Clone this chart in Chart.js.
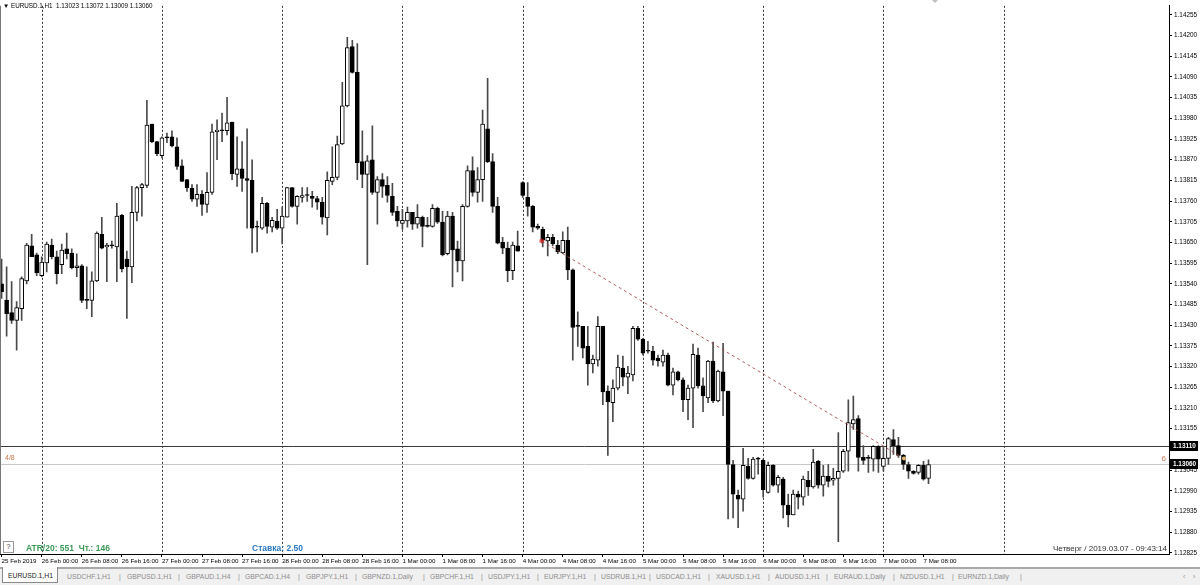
<!DOCTYPE html>
<html>
<head>
<meta charset="utf-8">
<script src="https://cdn.jsdelivr.net/npm/chart.js@4.4.1/dist/chart.umd.min.js"></script>
<style>
  html, body { margin: 0; padding: 0; background: #fff; }
  #wrap { position: relative; width: 1200px; height: 585px; overflow: hidden; font-family: "Liberation Sans", Arial, sans-serif; }
  #c { position: absolute; left: 0; top: 0; }
  .txt { position: absolute; white-space: nowrap; line-height: 1; }
  #head { left: 3px; top: 3px; font-size: 6.3px; color: #000; }
  #atr { left: 26px; top: 544px; font-size: 8.5px; font-weight: bold; color: #3b9a57; }
  #rate { left: 252px; top: 544px; font-size: 8.5px; font-weight: bold; color: #2a78c0; }
  #help { left: 3px; top: 541px; width: 9px; height: 10px; border: 1px solid #999; background: #fff; font-size: 7px; text-align: center; line-height: 10px; color: #333; }
  #clock { right: 33px; top: 545px; font-size: 8px; color: #333; }
  #tabs { position: absolute; left: 0; top: 567px; width: 1200px; height: 18px; background: #f0f0f0; border-top: 2px solid #a9a9a9; box-sizing: border-box; }
  #tabs span { position: absolute; top: 4px; font-size: 6.8px; color: #8c8c8c; white-space: nowrap; }
  #tabs .active { left: 2px; top: -2px; width: 56px; height: 16px; background: #fff; border: 1px solid #8a8a8a; border-top: none; color: #222; line-height: 17px; padding-left: 5px; box-sizing: border-box; }
</style>
</head>
<body>
<div id="wrap">
  <canvas id="c" width="1200" height="585"></canvas>
  <div class="txt" id="head">&#9660; EURUSD.1,H1&nbsp; 1.13023 1.13072 1.13009 1.13060</div>
  <div class="txt" id="help">?</div>
  <div class="txt" id="atr">ATR/20: 551&nbsp; Чт.: 146</div>
  <div class="txt" id="rate">Ставка: 2.50</div>
  <div class="txt" id="clock">Четверг / 2019.03.07 - 09:43:14</div>
  <div id="tabs"></div>
</div>
<script>
// hourly bars, 25 Feb 2019 16:00 .. 7 Mar 2019 09:00
const opens = [
  1.13540, 1.13496, 1.13464, 1.13443, 1.13474, 1.13548, 1.13641, 1.13617, 1.13562, 1.13596,
  1.13643, 1.13612, 1.13591, 1.13633, 1.13622, 1.13583, 1.13588, 1.13496, 1.13496, 1.13548,
  1.13672, 1.13638, 1.13641, 1.13638, 1.13722, 1.13606, 1.13585, 1.13730, 1.13796, 1.13802,
  1.13965, 1.13918, 1.13881, 1.13928, 1.13931, 1.13904, 1.13854, 1.13817, 1.13794, 1.13765,
  1.13778, 1.13751, 1.13783, 1.13944, 1.13947, 1.13947, 1.13970, 1.13831, 1.13846, 1.13820,
  1.13815, 1.13691, 1.13688, 1.13754, 1.13691, 1.13707, 1.13688, 1.13717, 1.13796, 1.13746,
  1.13770, 1.13775, 1.13773, 1.13767, 1.13757, 1.13715, 1.13812, 1.13823, 1.13912, 1.14013,
  1.14171, 1.14102, 1.13865, 1.13831, 1.13870, 1.13783, 1.13817, 1.13802, 1.13773, 1.13733,
  1.13701, 1.13707, 1.13730, 1.13699, 1.13717, 1.13693, 1.13693, 1.13741, 1.13704, 1.13620,
  1.13720, 1.13633, 1.13601, 1.13746, 1.13841, 1.13783, 1.13817, 1.13952, 1.13865, 1.13746,
  1.13651, 1.13635, 1.13575, 1.13641, 1.13809, 1.13770, 1.13746, 1.13693, 1.13685, 1.13654,
  1.13664, 1.13643, 1.13622, 1.13656, 1.13577, 1.13427, 1.13427, 1.13374, 1.13327, 1.13337,
  1.13427, 1.13255, 1.13224, 1.13263, 1.13316, 1.13292, 1.13298, 1.13422, 1.13393, 1.13361,
  1.13361, 1.13343, 1.13332, 1.13351, 1.13271, 1.13306, 1.13285, 1.13232, 1.13263, 1.13351,
  1.13269, 1.13237, 1.13335, 1.13229, 1.13306, 1.13255, 1.13060, 1.12978, 1.12968, 1.13055,
  1.13023, 1.13074, 1.13071, 1.12986, 1.13058, 1.13005, 1.13021, 1.12952, 1.12926, 1.12981,
  1.12973, 1.13018, 1.13000, 1.13068, 1.13005, 1.13029, 1.13018, 1.13023, 1.13042, 1.13095,
  1.13168, 1.13182, 1.13079, 1.13076, 1.13074, 1.13108, 1.13055, 1.13076, 1.13126, 1.13110,
  1.13084, 1.13060, 1.13042, 1.13039, 1.13058, 1.13023
];
const highs = [
  1.13606, 1.13585, 1.13546, 1.13493, 1.13559, 1.13648, 1.13672, 1.13622, 1.13612, 1.13651,
  1.13659, 1.13627, 1.13646, 1.13675, 1.13633, 1.13620, 1.13591, 1.13585, 1.13572, 1.13678,
  1.13717, 1.13648, 1.13654, 1.13754, 1.13725, 1.13627, 1.13799, 1.13799, 1.13807, 1.14028,
  1.13965, 1.13918, 1.13931, 1.13941, 1.13947, 1.13928, 1.13870, 1.13817, 1.13804, 1.13804,
  1.13788, 1.13836, 1.13965, 1.13976, 1.13994, 1.14036, 1.13970, 1.13931, 1.13918, 1.13952,
  1.13870, 1.13707, 1.13770, 1.13757, 1.13717, 1.13738, 1.13744, 1.13796, 1.13796, 1.13775,
  1.13796, 1.13796, 1.13786, 1.13773, 1.13770, 1.13838, 1.13904, 1.13933, 1.14076, 1.14195,
  1.14187, 1.14179, 1.13947, 1.13881, 1.13960, 1.13825, 1.13833, 1.13825, 1.13807, 1.13746,
  1.13738, 1.13744, 1.13730, 1.13751, 1.13720, 1.13717, 1.13751, 1.13744, 1.13733, 1.13733,
  1.13730, 1.13654, 1.13751, 1.13854, 1.13878, 1.13849, 1.14002, 1.14086, 1.13886, 1.13770,
  1.13664, 1.13651, 1.13651, 1.13680, 1.13812, 1.13809, 1.13749, 1.13699, 1.13691, 1.13672,
  1.13672, 1.13656, 1.13678, 1.13691, 1.13580, 1.13466, 1.13427, 1.13427, 1.13351, 1.13453,
  1.13427, 1.13269, 1.13285, 1.13351, 1.13348, 1.13321, 1.13427, 1.13427, 1.13395, 1.13387,
  1.13374, 1.13351, 1.13364, 1.13356, 1.13316, 1.13308, 1.13290, 1.13271, 1.13380, 1.13369,
  1.13290, 1.13337, 1.13385, 1.13311, 1.13382, 1.13255, 1.13071, 1.12992, 1.13103, 1.13076,
  1.13079, 1.13079, 1.13074, 1.13066, 1.13060, 1.13031, 1.13026, 1.12981, 1.12992, 1.12989,
  1.13029, 1.13042, 1.13100, 1.13071, 1.13058, 1.13060, 1.13050, 1.13145, 1.13100, 1.13232,
  1.13242, 1.13190, 1.13110, 1.13084, 1.13110, 1.13110, 1.13108, 1.13132, 1.13153, 1.13132,
  1.13087, 1.13066, 1.13044, 1.13060, 1.13068, 1.13072
];
const lows = [
  1.13501, 1.13401, 1.13435, 1.13364, 1.13443, 1.13540, 1.13612, 1.13562, 1.13559, 1.13572,
  1.13606, 1.13540, 1.13567, 1.13606, 1.13580, 1.13559, 1.13490, 1.13474, 1.13453, 1.13546,
  1.13633, 1.13546, 1.13635, 1.13546, 1.13572, 1.13448, 1.13543, 1.13707, 1.13720, 1.13796,
  1.13915, 1.13881, 1.13875, 1.13915, 1.13904, 1.13844, 1.13812, 1.13786, 1.13759, 1.13746,
  1.13722, 1.13730, 1.13778, 1.13870, 1.13918, 1.13936, 1.13817, 1.13799, 1.13786, 1.13688,
  1.13622, 1.13625, 1.13685, 1.13675, 1.13678, 1.13685, 1.13646, 1.13717, 1.13744, 1.13699,
  1.13757, 1.13759, 1.13744, 1.13738, 1.13699, 1.13670, 1.13804, 1.13817, 1.13910, 1.14010,
  1.14100, 1.13817, 1.13796, 1.13591, 1.13778, 1.13699, 1.13770, 1.13757, 1.13722, 1.13693,
  1.13685, 1.13691, 1.13685, 1.13688, 1.13638, 1.13691, 1.13691, 1.13701, 1.13614, 1.13617,
  1.13532, 1.13572, 1.13548, 1.13744, 1.13773, 1.13757, 1.13759, 1.13862, 1.13730, 1.13646,
  1.13620, 1.13546, 1.13551, 1.13627, 1.13770, 1.13720, 1.13678, 1.13685, 1.13638, 1.13614,
  1.13641, 1.13620, 1.13620, 1.13551, 1.13337, 1.13374, 1.13343, 1.13271, 1.13303, 1.13321,
  1.13219, 1.13084, 1.13174, 1.13258, 1.13269, 1.13248, 1.13282, 1.13390, 1.13351, 1.13356,
  1.13324, 1.13321, 1.13321, 1.13269, 1.13245, 1.13282, 1.13200, 1.13179, 1.13158, 1.13263,
  1.13200, 1.13224, 1.13224, 1.13226, 1.13190, 1.12915, 1.12918, 1.12892, 1.12936, 1.13021,
  1.13021, 1.13034, 1.12973, 1.12984, 1.13002, 1.12986, 1.12918, 1.12894, 1.12926, 1.12942,
  1.12952, 1.12978, 1.12997, 1.12997, 1.12976, 1.13000, 1.13005, 1.12855, 1.13039, 1.13042,
  1.13153, 1.13042, 1.13060, 1.13039, 1.13042, 1.13039, 1.13042, 1.13060, 1.13087, 1.13079,
  1.13047, 1.13023, 1.13034, 1.13034, 1.13018, 1.13009
];
const closes = [
  1.13519, 1.13461, 1.13443, 1.13477, 1.13554, 1.13643, 1.13612, 1.13569, 1.13598, 1.13646,
  1.13612, 1.13567, 1.13630, 1.13620, 1.13583, 1.13588, 1.13496, 1.13496, 1.13548, 1.13675,
  1.13635, 1.13643, 1.13641, 1.13720, 1.13580, 1.13585, 1.13730, 1.13796, 1.13804, 1.13962,
  1.13918, 1.13886, 1.13928, 1.13928, 1.13907, 1.13852, 1.13812, 1.13796, 1.13765, 1.13778,
  1.13751, 1.13783, 1.13944, 1.13949, 1.13947, 1.13968, 1.13833, 1.13846, 1.13820, 1.13815,
  1.13688, 1.13691, 1.13754, 1.13693, 1.13709, 1.13688, 1.13720, 1.13796, 1.13746, 1.13773,
  1.13775, 1.13775, 1.13767, 1.13757, 1.13717, 1.13815, 1.13823, 1.13910, 1.14013, 1.14168,
  1.14102, 1.13862, 1.13831, 1.13867, 1.13783, 1.13817, 1.13799, 1.13775, 1.13730, 1.13707,
  1.13709, 1.13730, 1.13699, 1.13717, 1.13693, 1.13693, 1.13741, 1.13704, 1.13617, 1.13720,
  1.13630, 1.13601, 1.13746, 1.13841, 1.13783, 1.13817, 1.13965, 1.13865, 1.13746, 1.13648,
  1.13635, 1.13575, 1.13643, 1.13627, 1.13775, 1.13746, 1.13691, 1.13688, 1.13656, 1.13664,
  1.13646, 1.13625, 1.13656, 1.13577, 1.13424, 1.13427, 1.13369, 1.13327, 1.13340, 1.13427,
  1.13253, 1.13226, 1.13263, 1.13319, 1.13292, 1.13303, 1.13422, 1.13393, 1.13356, 1.13361,
  1.13337, 1.13335, 1.13351, 1.13271, 1.13306, 1.13285, 1.13232, 1.13263, 1.13353, 1.13269,
  1.13242, 1.13335, 1.13229, 1.13308, 1.13255, 1.13060, 1.12981, 1.12968, 1.13058, 1.13023,
  1.13074, 1.13074, 1.12992, 1.13058, 1.13005, 1.13026, 1.12952, 1.12926, 1.12981, 1.12973,
  1.13021, 1.13000, 1.13066, 1.13005, 1.13029, 1.13015, 1.13023, 1.13042, 1.13095, 1.13171,
  1.13179, 1.13079, 1.13071, 1.13076, 1.13108, 1.13074, 1.13076, 1.13129, 1.13110, 1.13084,
  1.13060, 1.13042, 1.13036, 1.13058, 1.13021, 1.13060
];

// time axis: a label every 8 bars, day separators every 24 bars
const xTickIdx = [0, 8, 16, 24, 32, 40, 48, 56, 64, 72, 80, 88, 96, 104, 112, 120, 128, 136, 144, 152, 160, 168, 176, 184];
const xTickLabels = ['25 Feb 2019', '26 Feb 00:00', '26 Feb 08:00', '26 Feb 16:00', '27 Feb 00:00', '27 Feb 08:00',
  '27 Feb 16:00', '28 Feb 00:00', '28 Feb 08:00', '28 Feb 16:00', '1 Mar 00:00', '1 Mar 08:00', '1 Mar 16:00',
  '4 Mar 00:00', '4 Mar 08:00', '4 Mar 16:00', '5 Mar 00:00', '5 Mar 08:00', '5 Mar 16:00', '6 Mar 00:00',
  '6 Mar 08:00', '6 Mar 16:00', '7 Mar 00:00', '7 Mar 08:00'];
const dayStarts = [8, 32, 56, 80, 104, 128, 152, 176, 200];

const yTicks = [1.12825, 1.12880, 1.12935, 1.12990, 1.13045, 1.13100, 1.13155, 1.13210, 1.13265,
  1.13320, 1.13375, 1.13430, 1.13485, 1.13540, 1.13595, 1.13650, 1.13705, 1.13760, 1.13815,
  1.13870, 1.13925, 1.13980, 1.14035, 1.14090, 1.14145, 1.14200, 1.14255];

// trend line (bar index, price) and horizontal levels
const trendX = [107.8, 180.1];
const trendY = [1.13654, 1.13076];
const levelBid = 1.13110;
const levelLast = 1.13060;

const tabNames = ['USDCHF.1,H1', 'GBPUSD.1,H1', 'GBPAUD.1,H4', 'GBPCAD.1,H4', 'GBPJPY.1,H1', 'GBPNZD.1,Daily',
  'GBPCHF.1,H1', 'USDJPY.1,H1', 'EURJPY.1,H1', 'USDRUB.1,H1', 'USDCAD.1,H1', 'XAUUSD.1,H1', 'AUDUSD.1,H1',
  'EURAUD.1,Daily', 'NZDUSD.1,H1', 'EURNZD.1,Daily'];
const tabLeft = [67, 127, 186, 245, 306, 362, 430, 488, 544, 601, 656, 716, 775, 834, 900, 958];
const sepLeft = [119, 178, 238, 298, 355, 423, 481, 537, 594, 649, 708, 768, 826, 893, 952, 1020];

// tab strip
var tabs = document.getElementById('tabs');
var html = '<span class="active">EURUSD.1,H1</span>';
tabNames.forEach(function (n, i) {
  html += '<span style="left:' + tabLeft[i] + 'px">' + n + '</span>';
  html += '<span style="left:' + sepLeft[i] + 'px">|</span>';
});
html += '<span style="left:1183px">&#8249;</span><span style="left:1193px">&#8250;</span>';
tabs.innerHTML = html;

var bodies = opens.map(function (o, i) { return { x: i, y: [o, closes[i]] }; });
var wicks = lows.map(function (l, i) { return { x: i, y: [l, highs[i]] }; });
var trend = trendX.map(function (x, i) { return { x: x, y: trendY[i] }; });

var FONT = '"Liberation Sans", Arial, sans-serif';
Chart.defaults.font.family = FONT;

var mtPlugin = {
  id: 'mt',
  beforeDatasetsDraw: function (chart) {
    var ctx = chart.ctx, a = chart.chartArea, x = chart.scales.x, y = chart.scales.y;
    ctx.save();
    ctx.strokeStyle = '#333';
    ctx.lineWidth = 1;
    ctx.setLineDash([2, 2]);
    dayStarts.forEach(function (d) {
      var px = Math.round(x.getPixelForValue(d)) + 0.5;
      ctx.beginPath(); ctx.moveTo(px, a.top); ctx.lineTo(px, a.bottom); ctx.stroke();
    });
    ctx.setLineDash([]);
    var yb = Math.round(y.getPixelForValue(levelBid)) + 0.5;
    ctx.strokeStyle = '#3a3a3a';
    ctx.beginPath(); ctx.moveTo(a.left, yb); ctx.lineTo(a.right, yb); ctx.stroke();
    var yl = Math.round(y.getPixelForValue(levelLast)) + 0.5;
    ctx.strokeStyle = '#c8c8c8';
    ctx.beginPath(); ctx.moveTo(a.left, yl); ctx.lineTo(a.right, yl); ctx.stroke();
    // level captions
    ctx.fillStyle = '#c8784e';
    ctx.textBaseline = 'middle';
    ctx.font = '7px ' + FONT;
    ctx.textAlign = 'left';
    ctx.fillText('4/8', 5, yl - 6);
    ctx.font = '8px ' + FONT;
    ctx.textAlign = 'right';
    ctx.fillText('6', a.right - 3, yl - 6);
    ctx.restore();
  },
  afterDraw: function (chart) {
    var ctx = chart.ctx, a = chart.chartArea, y = chart.scales.y;
    ctx.save();
    // left frame edge
    ctx.strokeStyle = '#777';
    ctx.beginPath(); ctx.moveTo(0.5, a.top); ctx.lineTo(0.5, a.bottom); ctx.stroke();
    // chart shift marker
    ctx.fillStyle = '#c0c0c0';
    ctx.beginPath(); ctx.moveTo(932, 0); ctx.lineTo(938, 0); ctx.lineTo(935, 3); ctx.closePath(); ctx.fill();
    // price boxes on the axis
    [levelBid, levelLast].forEach(function (p) {
      var py = Math.round(y.getPixelForValue(p));
      ctx.fillStyle = '#000';
      ctx.fillRect(a.right + 1, py - 5, 28, 10);
      ctx.fillStyle = '#fff';
      ctx.font = 'bold 6.4px ' + FONT;
      ctx.textAlign = 'left';
      ctx.textBaseline = 'middle';
      ctx.fillText(p.toFixed(5), a.right + 4, py);
    });
    ctx.restore();
  }
};

new Chart(document.getElementById('c').getContext('2d'), {
  type: 'bar',
  data: {
    datasets: [
      {
        type: 'line',
        data: trend,
        order: 0,
        borderColor: 'rgba(165,70,70,0.85)',
        borderWidth: 1,
        borderDash: [3, 3],
        pointRadius: [2.5, 1.5],
        pointStyle: ['star', 'circle'],
        pointBorderColor: ['#d02020', '#e8c070'],
        pointBackgroundColor: ['#d02020', '#e8c070'],
        fill: false
      },
      {
        data: bodies,
        order: 1,
        grouped: false,
        barThickness: 4,
        minBarLength: 1,
        borderWidth: 1,
        borderSkipped: false,
        borderColor: '#000',
        backgroundColor: function (c) {
          var i = c.dataIndex;
          return closes[i] > opens[i] ? '#fff' : '#000';
        }
      },
      {
        data: wicks,
        order: 2,
        grouped: false,
        barThickness: 1,
        borderWidth: 0,
        backgroundColor: '#4a4a4a'
      }
    ]
  },
  options: {
    responsive: false,
    devicePixelRatio: 1,
    animation: false,
    events: [],
    layout: { padding: 0, autoPadding: false },
    plugins: { legend: { display: false }, tooltip: { enabled: false }, title: { display: false } },
    scales: {
      x: {
        type: 'linear',
        min: -0.32,
        max: 233.0,
        offset: false,
        afterFit: function (s) { s.height = 31; },
        afterBuildTicks: function (s) { s.ticks = xTickIdx.map(function (v) { return { value: v }; }); },
        ticks: {
          autoSkip: false, maxRotation: 0, minRotation: 0, align: 'start', padding: 1,
          color: '#000', font: { size: 6.2 },
          callback: function (v, i) { return xTickLabels[i]; }
        },
        grid: { drawOnChartArea: false, offset: false, tickLength: 3, tickColor: '#000' },
        border: { color: '#000', width: 1 }
      },
      y: {
        position: 'right',
        min: 1.12822,
        max: 1.14279,
        beginAtZero: false,
        afterFit: function (s) { s.width = 31; },
        afterBuildTicks: function (s) { s.ticks = yTicks.map(function (v) { return { value: v }; }); },
        ticks: {
          autoSkip: false, padding: 2, color: '#000', font: { size: 6.4 },
          callback: function (v) { return v.toFixed(5); }
        },
        grid: { drawOnChartArea: false, tickLength: 3, tickColor: '#000' },
        border: { color: '#000', width: 1 }
      }
    }
  },
  plugins: [mtPlugin]
});
</script>
</body>
</html>
